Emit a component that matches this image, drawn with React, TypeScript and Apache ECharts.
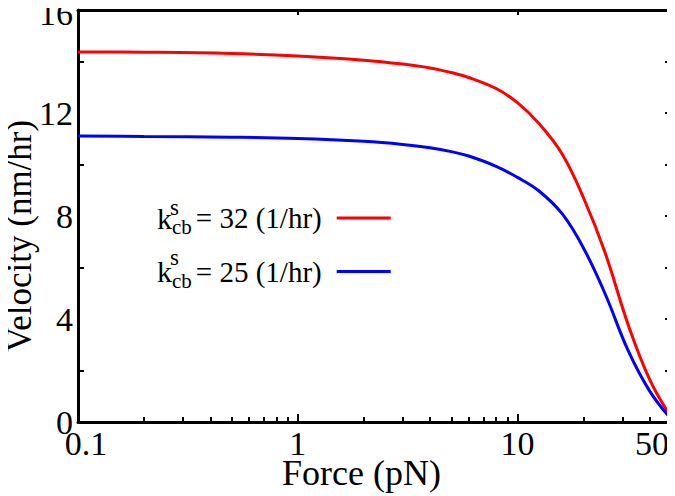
import React, { useEffect, useRef } from "react";
import * as echarts from "echarts";

const FORCE = [0.1, 0.2, 0.5, 1, 2, 3, 4, 5, 6, 8, 10, 12.5, 16, 20, 25, 32, 40, 50];
const VEL_32 = [14.37, 14.36, 14.31, 14.21, 14.05, 13.9, 13.75, 13.57, 13.38, 12.95, 12.4, 11.6, 10.4, 8.7, 6.6, 3.75, 1.65, 0.2];
const VEL_25 = [11.11, 11.09, 11.06, 11.01, 10.9, 10.78, 10.65, 10.5, 10.33, 9.93, 9.5, 8.98, 8.08, 6.75, 5.0, 2.75, 1.2, 0.12];
const RATES = ["32", "25"];
const SERIES_NAMES = ["k_cb^s = 32 (1/hr)", "k_cb^s = 25 (1/hr)"];
const COLORS = ["#ff0000", "#0000ff"];
const X_LABELS = [0.1, 1, 10, 50];
const X_MAJOR = [1, 10];
const X_MINOR = [0.2, 0.3, 0.4, 0.5, 0.6, 0.7, 0.8, 0.9, 2, 3, 4, 5, 6, 7, 8, 9, 20, 30, 40];
const Y_LEFT_TICKS = [2, 6, 10, 14];
const Y_RIGHT_TICKS = [2, 4, 6, 8, 10, 12, 14];
const X_MIN = 0.1;
const X_MAX = 50;

const lg = (v: number) => Math.log10(v);
const FONT = "Liberation Serif";

export default function App() {
  const ref = useRef<HTMLDivElement>(null);
  useEffect(() => {
    if (!ref.current) return;
    const chart = echarts.init(ref.current, null, { renderer: "svg" });
    const axisLine = { show: true, onZero: false, lineStyle: { color: "#000", width: 3 } };
    const xMin = lg(X_MIN);
    const xMax = lg(X_MAX);
    const fmtX = (v: number) => {
      const f = Math.pow(10, v);
      const s = f < 1 ? f.toFixed(1) : String(Math.round(f));
      if (Math.abs(v - xMin) < 1e-6) return `{lo|${s}}`;
      if (Math.abs(v - xMax) < 1e-6) return `{hi|${s}}`;
      return s;
    };
    const makeSeries = (vals: number[], i: number) => ({
      name: SERIES_NAMES[i],
      type: "line",
      xAxisIndex: 0,
      yAxisIndex: 0,
      data: FORCE.map((f, j) => [lg(f), vals[j]]),
      showSymbol: false,
      symbol: "none",
      smooth: 0.4,
      lineStyle: { color: COLORS[i], width: 3 },
      itemStyle: { color: COLORS[i] },
    });
    chart.setOption({
      animation: false,
      backgroundColor: "#fff",
      grid: { left: 78, right: 4, top: 10, bottom: 74, outerBoundsMode: "none", containLabel: false },
      xAxis: [
        {
          type: "value",
          min: xMin,
          max: xMax,
          position: "bottom",
          axisLine,
          splitLine: { show: false },
          axisTick: { show: true, inside: true, length: 8, customValues: X_MAJOR.map(lg), lineStyle: { color: "#000", width: 2 } },
          axisLabel: {
            show: true,
            customValues: X_LABELS.map(lg),
            formatter: fmtX,
            margin: 4,
            color: "#000",
            fontFamily: FONT,
            fontSize: 34,
            rich: {
              lo: { fontFamily: FONT, fontSize: 34, color: "#000", padding: [0, 0, 0, 16] },
              hi: { fontFamily: FONT, fontSize: 34, color: "#000", padding: [0, 38, 0, 0] },
            },
          },
          name: "Force (pN)",
          nameLocation: "middle",
          nameGap: 33,
          nameMoveOverlap: false,
          nameTextStyle: { fontFamily: FONT, fontSize: 36, color: "#000", padding: [0, 26, 0, 0] },
        },
        {
          type: "value",
          min: xMin,
          max: xMax,
          position: "bottom",
          axisLine: { show: false, onZero: false },
          splitLine: { show: false },
          axisLabel: { show: false },
          axisTick: { show: true, inside: true, length: 5, customValues: X_MINOR.map(lg), lineStyle: { color: "#000", width: 2 } },
        },
        {
          type: "value",
          min: xMin,
          max: xMax,
          position: "top",
          axisLine,
          splitLine: { show: false },
          axisLabel: { show: false },
          axisTick: { show: true, inside: true, length: 5, customValues: X_MAJOR.map(lg), lineStyle: { color: "#000", width: 2 } },
        },
      ],
      yAxis: [
        {
          type: "value",
          min: 0,
          max: 16,
          interval: 4,
          position: "left",
          axisLine,
          splitLine: { show: false },
          axisTick: { show: true, inside: true, length: 6, customValues: Y_LEFT_TICKS, lineStyle: { color: "#000", width: 2 } },
          axisLabel: {
            margin: 5,
            color: "#000",
            fontFamily: FONT,
            fontSize: 34,
            formatter: (v: number) => (v === 16 ? `{top|${v}}` : String(v)),
            rich: { top: { fontFamily: FONT, fontSize: 34, color: "#000", padding: [6, 0, 0, 0] } },
          },
          name: "Velocity (nm/hr)",
          nameLocation: "middle",
          nameGap: 41,
          nameMoveOverlap: false,
          nameTextStyle: { fontFamily: FONT, fontSize: 35, color: "#000", padding: [0, 40, 0, 0] },
        },
        {
          type: "value",
          min: 0,
          max: 16,
          interval: 4,
          position: "right",
          axisLine,
          splitLine: { show: false },
          axisLabel: { show: false },
          axisTick: { show: true, inside: true, length: 6, customValues: Y_RIGHT_TICKS, lineStyle: { color: "#000", width: 2 } },
        },
      ],
      legend: {
        show: true,
        orient: "vertical",
        left: 152,
        top: 198,
        align: "right",
        itemGap: 19,
        itemWidth: 54,
        itemHeight: 3,
        padding: 5,
        data: SERIES_NAMES.map((n) => ({ name: n, icon: "rect" })),
        formatter: (name: string) => {
          const i = SERIES_NAMES.indexOf(name);
          return `{k|k}{sub|cb}{t|= ${RATES[i]} (1/hr)}`;
        },
        textStyle: {
          fontFamily: FONT,
          fontSize: 29,
          color: "#000",
          padding: [0, 10, 0, 0],
          rich: {
            k: { fontFamily: FONT, fontSize: 30, color: "#000" },
            sub: { fontFamily: FONT, fontSize: 21, color: "#000", padding: [18, 0, 0, 0] },
            t: { fontFamily: FONT, fontSize: 29, color: "#000", padding: [0, 0, 0, 4] },
          },
        },
      },
      graphic: [
        { type: "text", left: 170, top: 196, style: { text: "s", fontFamily: FONT, fontSize: 23, fill: "#000" } },
        { type: "text", left: 170, top: 246, style: { text: "s", fontFamily: FONT, fontSize: 23, fill: "#000" } },
      ],
      series: [makeSeries(VEL_32, 0), makeSeries(VEL_25, 1)],
    });
    return () => chart.dispose();
  }, []);
  return <div ref={ref} style={{ width: 675, height: 496, marginLeft: -8, marginTop: -8 }} />;
}
